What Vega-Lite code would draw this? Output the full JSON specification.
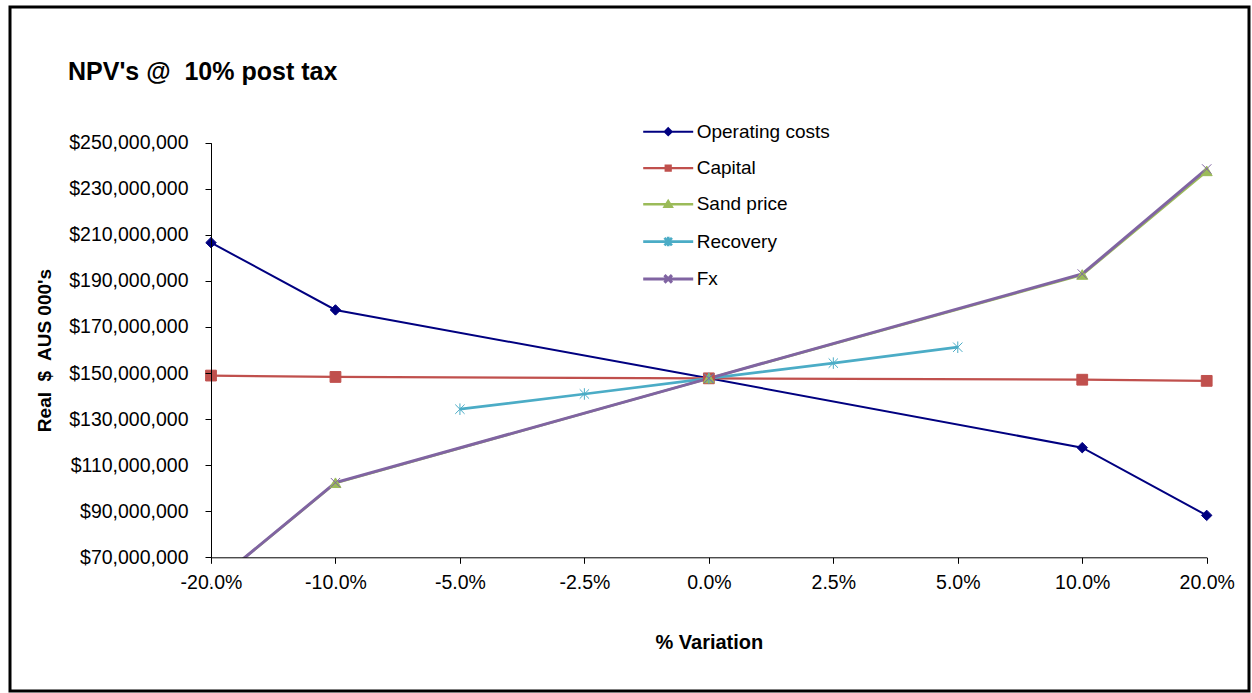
{
  "$schema": "https://vega.github.io/schema/vega-lite/v6.json",
  "width": 1239,
  "height": 684,
  "autosize": {"type": "none"},
  "padding": {"left": 10, "top": 7, "right": 3, "bottom": 2},
  "background": "white",
  "title": {
    "text": "NPV's @\u00a0 10% post tax",
    "anchor": "start",
    "frame": "group",
    "orient": "top",
    "offset": 0,
    "baseline": "alphabetic",
    "dx": 58,
    "dy": 98,
    "font": "Liberation Sans",
    "fontSize": 25,
    "fontWeight": "bold",
    "color": "black"
  },
  "config": {
    "view": {"stroke": "black", "strokeWidth": 3},
    "font": "Liberation Sans"
  },
  "data": {
    "values": [
      {"pct": "-20.0%", "series": "Operating costs", "value": 206600000},
      {"pct": "-10.0%", "series": "Operating costs", "value": 177400000},
      {"pct": "0.0%", "series": "Operating costs", "value": 147700000},
      {"pct": "10.0%", "series": "Operating costs", "value": 117600000},
      {"pct": "20.0%", "series": "Operating costs", "value": 88200000},
      {"pct": "-20.0%", "series": "Capital", "value": 148900000},
      {"pct": "-10.0%", "series": "Capital", "value": 148300000},
      {"pct": "0.0%", "series": "Capital", "value": 147700000},
      {"pct": "10.0%", "series": "Capital", "value": 147100000},
      {"pct": "20.0%", "series": "Capital", "value": 146600000},
      {"pct": "-20.0%", "series": "Sand price", "value": 57800000},
      {"pct": "-10.0%", "series": "Sand price", "value": 102200000},
      {"pct": "0.0%", "series": "Sand price", "value": 147700000},
      {"pct": "10.0%", "series": "Sand price", "value": 192600000},
      {"pct": "20.0%", "series": "Sand price", "value": 237600000},
      {"pct": "-5.0%", "series": "Recovery", "value": 134300000},
      {"pct": "-2.5%", "series": "Recovery", "value": 140900000},
      {"pct": "0.0%", "series": "Recovery", "value": 147700000},
      {"pct": "2.5%", "series": "Recovery", "value": 154300000},
      {"pct": "5.0%", "series": "Recovery", "value": 161200000},
      {"pct": "-20.0%", "series": "Fx", "value": 57800000},
      {"pct": "-10.0%", "series": "Fx", "value": 102400000},
      {"pct": "0.0%", "series": "Fx", "value": 147700000},
      {"pct": "10.0%", "series": "Fx", "value": 193000000},
      {"pct": "20.0%", "series": "Fx", "value": 238600000}
    ]
  },
  "layer": [
    {
      "mark": {"type": "line", "strokeCap": "butt"},
      "encoding": {
        "x": {
          "field": "pct",
          "type": "ordinal",
          "sort": ["-20.0%", "-10.0%", "-5.0%", "-2.5%", "0.0%", "2.5%", "5.0%", "10.0%", "20.0%"],
          "scale": {
            "type": "point",
            "domain": ["-20.0%", "-10.0%", "-5.0%", "-2.5%", "0.0%", "2.5%", "5.0%", "10.0%", "20.0%"],
            "range": [201, 1196.7],
            "padding": 0
          },
          "axis": {
            "title": "% Variation",
            "labelAngle": 0,
            "offset": -133.7,
            "grid": false,
            "zindex": 1,
            "tickSize": 6,
            "labelPadding": 10,
            "titlePadding": 41,
            "domainColor": "black",
            "tickColor": "black",
            "labelColor": "black",
            "labelFont": "Liberation Sans",
            "labelFontSize": 19.5,
            "titleFont": "Liberation Sans",
            "titleFontSize": 20,
            "titleFontWeight": "bold",
            "titleColor": "black"
          }
        },
        "y": {
          "field": "value",
          "type": "quantitative",
          "scale": {"domain": [70000000, 250000000], "range": [550.3, 135.7], "nice": false, "zero": false},
          "axis": {
            "title": "Real\u00a0 $\u00a0 AUS 000's",
            "values": [70000000, 90000000, 110000000, 130000000, 150000000, 170000000, 190000000, 210000000, 230000000, 250000000],
            "format": "$,.0f",
            "offset": -201,
            "grid": false,
            "zindex": 1,
            "tickSize": 6,
            "labelPadding": 17,
            "titlePadding": 14,
            "domainColor": "black",
            "tickColor": "black",
            "labelColor": "black",
            "labelFont": "Liberation Sans",
            "labelFontSize": 19.5,
            "titleFont": "Liberation Sans",
            "titleFontSize": 19,
            "titleFontWeight": "bold",
            "titleColor": "black"
          }
        },
        "color": {
          "field": "series",
          "type": "nominal",
          "scale": {
            "domain": ["Operating costs", "Capital", "Sand price", "Recovery", "Fx"],
            "range": ["#000080", "#C0504D", "#9BBB59", "#4BACC6", "#8064A2"]
          },
          "legend": {
            "orient": "none",
            "legendX": 648.7,
            "legendY": 115.2,
            "title": null,
            "padding": 0,
            "symbolSize": 100,
            "rowPadding": 16.3,
            "labelOffset": 19,
            "labelFont": "Liberation Sans",
            "labelFontSize": 19,
            "labelColor": "black",
            "encode": {
              "symbols": {
                "update": {
                  "shape": {"signal": "datum.value === 'Operating costs' ? 'M-5,0L5,0M0,-0.7L0.7,0L0,0.7L-0.7,0Z' : datum.value === 'Capital' ? 'M-5,0L5,0M-0.5,-0.5L0.5,-0.5L0.5,0.5L-0.5,0.5Z' : datum.value === 'Sand price' ? 'M-5,0L5,0M0,-0.65L0.7,0.5L-0.7,0.5Z' : datum.value === 'Recovery' ? 'M-5,0L5,0M-0.75,-0.75L0.75,0.75M-0.75,0.75L0.75,-0.75M0,-0.95L0,0.95' : 'M-5,0L5,0M-0.75,-0.75L0.75,0.75M-0.75,0.75L0.75,-0.75'"},
                  "fill": {"signal": "datum.value === 'Operating costs' ? '#000080' : datum.value === 'Capital' ? '#C0504D' : datum.value === 'Sand price' ? '#9BBB59' : 'transparent'"},
                  "stroke": {"signal": "datum.value === 'Operating costs' ? '#000080' : datum.value === 'Capital' ? '#C0504D' : datum.value === 'Sand price' ? '#9BBB59' : datum.value === 'Recovery' ? '#4BACC6' : '#8064A2'"},
                  "strokeWidth": {"signal": "datum.value === 'Operating costs' ? 2 : 3.5"}
                }
              }
            }
          }
        },
        "strokeWidth": {
          "field": "series",
          "type": "nominal",
          "scale": {
            "domain": ["Operating costs", "Capital", "Sand price", "Recovery", "Fx"],
            "range": [2, 3, 3.5, 3.5, 3.5]
          },
          "legend": null
        }
      }
    },
    {
      "transform": [{"filter": "datum.series === 'Operating costs'"}],
      "mark": {"type": "point", "shape": "M0,-0.95L0.95,0L0,0.95L-0.95,0Z", "size": 121, "fill": "#000080", "stroke": "#000080", "strokeWidth": 1, "opacity": 1},
      "encoding": {"x": {"field": "pct", "type": "ordinal"}, "y": {"field": "value", "type": "quantitative"}}
    },
    {
      "transform": [{"filter": "datum.series === 'Capital'"}],
      "mark": {"type": "point", "shape": "M-0.98,-0.98L0.98,-0.98L0.98,0.98L-0.98,0.98Z", "size": 121, "fill": "#C0504D", "stroke": "#C0504D", "strokeWidth": 1, "opacity": 1},
      "encoding": {"x": {"field": "pct", "type": "ordinal"}, "y": {"field": "value", "type": "quantitative"}}
    },
    {
      "transform": [{"filter": "datum.series === 'Sand price' && datum.value >= 70000000"}],
      "mark": {"type": "point", "shape": "M0,-0.95L1,0.8L-1,0.8Z", "size": 121, "fill": "#9BBB59", "stroke": "#9BBB59", "strokeWidth": 1, "opacity": 1},
      "encoding": {"x": {"field": "pct", "type": "ordinal"}, "y": {"field": "value", "type": "quantitative"}}
    },
    {
      "transform": [{"filter": "datum.series === 'Recovery'"}],
      "mark": {"type": "point", "shape": "M-0.85,-0.85L0.85,0.85M-0.85,0.85L0.85,-0.85M0,-1.05L0,1.05", "size": 121, "fill": "transparent", "stroke": "#4BACC6", "strokeWidth": 1, "opacity": 1},
      "encoding": {"x": {"field": "pct", "type": "ordinal"}, "y": {"field": "value", "type": "quantitative"}}
    },
    {
      "transform": [{"filter": "datum.series === 'Fx' && datum.value >= 70000000"}],
      "mark": {"type": "point", "shape": "M-0.85,-0.85L0.85,0.85M-0.85,0.85L0.85,-0.85", "size": 121, "fill": "transparent", "stroke": "#8064A2", "strokeWidth": 1, "opacity": 1},
      "encoding": {"x": {"field": "pct", "type": "ordinal"}, "y": {"field": "value", "type": "quantitative"}}
    },
    {
      "transform": [{"filter": "datum.series === 'Fx' && datum.pct === '-20.0%'"}],
      "mark": {"type": "rect", "fill": "white", "stroke": null, "opacity": 1},
      "encoding": {
        "x": {"datum": "-20.0%", "type": "ordinal"},
        "x2": {"datum": "-10.0%"},
        "y": {"datum": 69800000, "type": "quantitative"},
        "y2": {"datum": 55000000}
      }
    }
  ]
}
